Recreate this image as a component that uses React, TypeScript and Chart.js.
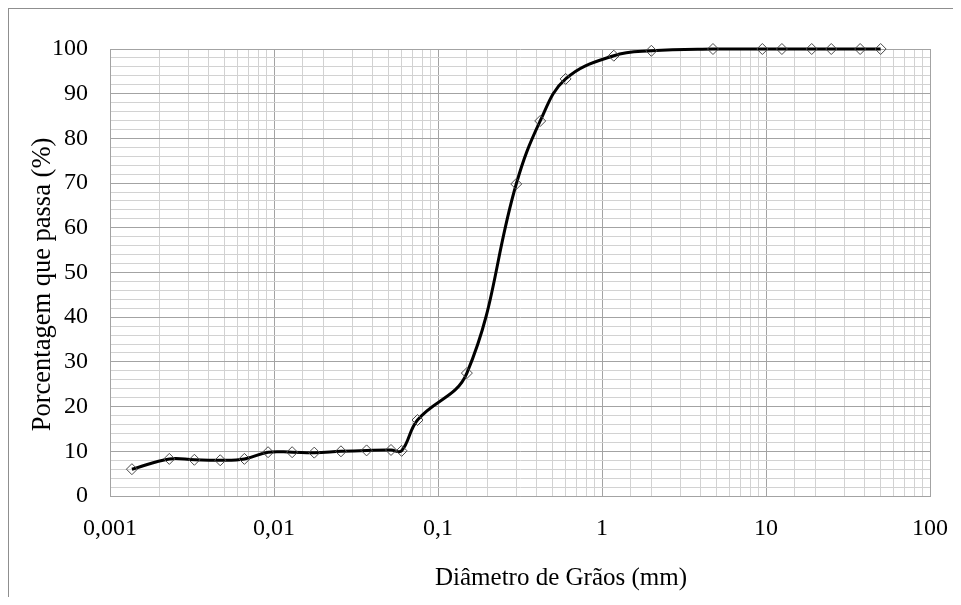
import React, { useEffect, useRef } from "react";
import { Chart, registerables } from "chart.js";

Chart.register(...registerables);

// Grain size distribution (diameter in mm, percentage passing)
const diameters = [
  0.00136, 0.0023, 0.00327, 0.0047, 0.0066, 0.0092, 0.0129, 0.0176, 0.0256,
  0.0367, 0.0517, 0.06, 0.075, 0.15, 0.3, 0.42, 0.6, 1.18, 2.0, 4.75, 9.5,
  12.5, 19, 25, 37.5, 50,
];
const percentPassing = [
  6.0, 8.3, 8.1, 8.0, 8.3, 9.8, 9.8, 9.7, 10.0, 10.2, 10.3, 10.1, 17.0, 27.5,
  69.8, 83.9, 93.3, 98.5, 99.6, 100, 100, 100, 100, 100, 100, 100,
];
const xTickValues = [0.001, 0.01, 0.1, 1, 10, 100];
const xTickLabels = ["0,001", "0,01", "0,1", "1", "10", "100"];
const yMin = 0;
const yMax = 100;
const yMajorStep = 10;
const yMinorStep = 2;
const xAxisTitle = "Diâmetro de Grãos (mm)";
const yAxisTitle = "Porcentagem que passa (%)";

const FONT = "'Liberation Serif', 'Times New Roman', serif";
const MAJOR_GRID = "#a3a3a3";
const MINOR_GRID = "#d2d2d2";

function isPowerOfTen(v: number) {
  const l = Math.log10(v);
  return Math.abs(l - Math.round(l)) < 1e-6;
}

// Axis titles drawn as canvas text (placed like the original, off-centre)
const axisTitlesPlugin = {
  id: "axisTitles",
  afterDraw(chart: any) {
    const { ctx, chartArea } = chart;
    ctx.save();
    ctx.fillStyle = "#000000";
    ctx.textAlign = "center";
    ctx.textBaseline = "middle";
    ctx.font = `25px ${FONT}`;
    ctx.fillText(
      xAxisTitle,
      (chartArea.left + chartArea.right) / 2 + 41,
      chartArea.bottom + 82
    );
    ctx.font = `26.5px ${FONT}`;
    ctx.translate(34, (chartArea.top + chartArea.bottom) / 2 + 12);
    ctx.rotate(-Math.PI / 2);
    ctx.fillText(yAxisTitle, 0, 0);
    ctx.restore();
  },
};

export default function App() {
  const canvasRef = useRef<HTMLCanvasElement | null>(null);

  useEffect(() => {
    if (!canvasRef.current) return;
    const points = diameters.map((d, i) => ({ x: d, y: percentPassing[i] }));
    const chart = new Chart(canvasRef.current, {
      type: "line",
      data: {
        datasets: [
          {
            data: points,
            borderColor: "#000000",
            borderWidth: 3,
            tension: 0.4,
            pointStyle: "rectRot",
            pointRadius: 5.5,
            pointBorderColor: "#4a4a4a",
            pointBorderWidth: 1,
            pointBackgroundColor: "rgba(0,0,0,0)",
            clip: false,
          } as any,
        ],
      },
      plugins: [axisTitlesPlugin],
      options: {
        animation: false,
        responsive: false,
        maintainAspectRatio: false,
        layout: { padding: { left: 0, top: 40, right: 23, bottom: 0 } },
        plugins: {
          legend: { display: false },
          tooltip: { enabled: false },
        },
        scales: {
          x: {
            type: "logarithmic",
            min: xTickValues[0],
            max: xTickValues[xTickValues.length - 1],
            afterFit: (scale: any) => {
              scale.height = 101;
            },
            border: { display: true, color: MAJOR_GRID, width: 1 },
            grid: {
              drawTicks: true,
              tickLength: 18,
              tickColor: "rgba(0,0,0,0)",
              lineWidth: 1,
              color: (ctx: any) =>
                ctx.tick && isPowerOfTen(ctx.tick.value) ? MAJOR_GRID : MINOR_GRID,
            },
            ticks: {
              autoSkip: false,
              maxRotation: 0,
              minRotation: 0,
              padding: 0,
              color: "#000000",
              font: { family: FONT, size: 24 },
              callback: (value: any) => {
                const v = Number(value);
                const idx = xTickValues.findIndex(
                  (t) => Math.abs(Math.log10(t) - Math.log10(v)) < 1e-6
                );
                return idx >= 0 ? xTickLabels[idx] : "";
              },
            },
            title: { display: false },
          },
          y: {
            type: "linear",
            min: yMin,
            max: yMax,
            afterFit: (scale: any) => {
              scale.width = 101;
            },
            border: { display: true, color: MAJOR_GRID, width: 1 },
            grid: {
              drawTicks: false,
              lineWidth: 1,
              color: (ctx: any) =>
                ctx.tick && Math.round(ctx.tick.value) % yMajorStep === 0
                  ? MAJOR_GRID
                  : MINOR_GRID,
            },
            ticks: {
              stepSize: yMinorStep,
              autoSkip: false,
              padding: 22,
              color: "#000000",
              font: { family: FONT, size: 24 },
              callback: (value: any) =>
                Math.round(Number(value)) % yMajorStep === 0
                  ? String(Math.round(Number(value)))
                  : "",
            },
            title: { display: false },
          },
        },
      } as any,
    });
    return () => chart.destroy();
  }, []);

  return (
    <div
      style={{
        width: 944,
        height: 588,
        borderTop: "1px solid #8f8f8f",
        borderLeft: "1px solid #8f8f8f",
        background: "#ffffff",
      }}
    >
      <canvas
        ref={canvasRef}
        width={944}
        height={588}
        style={{ display: "block", width: 944, height: 588 }}
      />
    </div>
  );
}
